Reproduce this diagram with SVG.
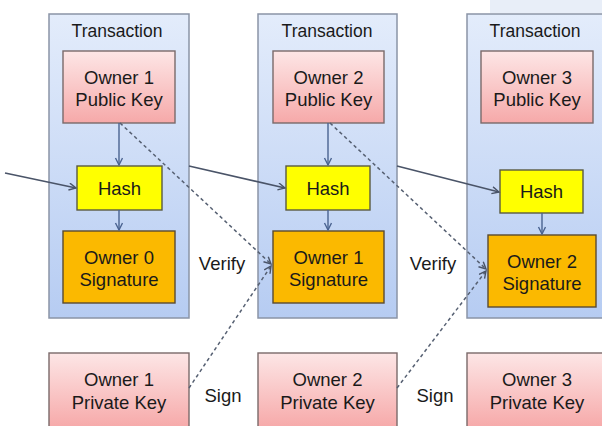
<svg xmlns="http://www.w3.org/2000/svg" width="602" height="426" viewBox="0 0 602 426">
<defs>
<linearGradient id="gTx" x1="0" y1="0" x2="0" y2="1">
<stop offset="0" stop-color="#e3ecfb"/>
<stop offset="1" stop-color="#b6ccf2"/>
</linearGradient>
<linearGradient id="gKey" x1="0" y1="0" x2="0" y2="1">
<stop offset="0" stop-color="#fde6e6"/>
<stop offset="1" stop-color="#f6a9a9"/>
</linearGradient>
<marker id="arr" markerWidth="10" markerHeight="10" refX="8" refY="4" orient="auto" markerUnits="userSpaceOnUse">
<path d="M1,0.5 L8,4 L1,7.5" fill="none" stroke="#4a5468" stroke-width="1.4"/>
</marker>
<marker id="arrB" markerWidth="10" markerHeight="10" refX="8" refY="4" orient="auto" markerUnits="userSpaceOnUse">
<path d="M1,0.5 L8,4 L1,7.5" fill="none" stroke="#4a6390" stroke-width="1.4"/>
</marker>
</defs>
<style>
.tx{fill:url(#gTx);stroke:#8a94a6;stroke-width:1.5}
.key{fill:url(#gKey);stroke:#7a6a6a;stroke-width:1.4}
.hash{fill:#ffff00;stroke:#5a5a40;stroke-width:1.4}
.sig{fill:#fbb900;stroke:#5a4a30;stroke-width:1.4}
text{font-family:"Liberation Sans",Arial,sans-serif;font-size:18.5px;fill:#1a1a1a;text-anchor:middle}
.t{font-size:17.5px}
.solid{fill:none;stroke:#4a5468;stroke-width:1.6;marker-end:url(#arr)}
.vert{fill:none;stroke:#4a6390;stroke-width:1.4;marker-end:url(#arrB)}
.dash{fill:none;stroke:#566072;stroke-width:1.5;stroke-dasharray:3.5 3;marker-end:url(#arr)}
</style>
<rect x="0" y="0" width="602" height="426" fill="#ffffff"/>
<rect x="490" y="0" width="112" height="13" fill="#e8eef8"/>

<g id="tx1"><rect class="tx" x="49" y="14" width="140" height="304"/><text class="t" x="117" y="37">Transaction</text></g>
<g id="tx2"><rect class="tx" x="258" y="14" width="139" height="304"/><text class="t" x="327" y="37">Transaction</text></g>
<g id="tx3"><rect class="tx" x="467" y="14" width="142" height="304"/><text class="t" x="535" y="37">Transaction</text></g>

<g id="pub1"><rect class="key" x="63" y="51" width="112" height="72"/><text x="119" y="83.5">Owner 1</text><text x="119" y="105.5">Public Key</text></g>
<g id="pub2"><rect class="key" x="273" y="51" width="111" height="72"/><text x="328.5" y="83.5">Owner 2</text><text x="328.5" y="105.5">Public Key</text></g>
<g id="pub3"><rect class="key" x="481" y="51" width="112" height="72"/><text x="537" y="83.5">Owner 3</text><text x="537" y="105.5">Public Key</text></g>

<g id="hash1"><rect class="hash" x="77" y="166" width="85" height="44"/><text x="119.5" y="194.5">Hash</text></g>
<g id="hash2"><rect class="hash" x="286" y="166" width="84" height="44"/><text x="328" y="194.5">Hash</text></g>
<g id="hash3"><rect class="hash" x="500" y="170" width="83" height="43"/><text x="541.5" y="198">Hash</text></g>

<g id="sig1"><rect class="sig" x="63" y="231" width="112" height="72"/><text x="119" y="263.5">Owner 0</text><text x="119" y="285.5">Signature</text></g>
<g id="sig2"><rect class="sig" x="273" y="231" width="111" height="72"/><text x="328.5" y="263.5">Owner 1</text><text x="328.5" y="285.5">Signature</text></g>
<g id="sig3"><rect class="sig" x="488" y="235" width="108" height="72"/><text x="542" y="267.5">Owner 2</text><text x="542" y="289.5">Signature</text></g>

<g id="priv1"><rect class="key" x="49" y="353" width="140" height="75"/><text x="119" y="385.5">Owner 1</text><text x="119" y="408.5">Private Key</text></g>
<g id="priv2"><rect class="key" x="258" y="353" width="139" height="75"/><text x="327.5" y="385.5">Owner 2</text><text x="327.5" y="408.5">Private Key</text></g>
<g id="priv3"><rect class="key" x="467" y="353" width="142" height="75"/><text x="537" y="385.5">Owner 3</text><text x="537" y="408.5">Private Key</text></g>

<g id="labels">
<text x="222" y="269.5">Verify</text>
<text x="433" y="269.5">Verify</text>
<text x="223" y="401.5">Sign</text>
<text x="435" y="401.5">Sign</text>
</g>

<g id="connectors">
<path class="solid" d="M5,173 L76,188"/>
<path class="solid" d="M189,166 L285,188"/>
<path class="solid" d="M397,166 L499,192"/>
<path class="vert" d="M119,123 L119,165"/>
<path class="vert" d="M119,210 L119,230"/>
<path class="vert" d="M328,123 L328,165"/>
<path class="vert" d="M328,210 L328,230"/>
<path class="vert" d="M542,213 L542,234"/>
<path class="dash" d="M120,123 L271,264"/>
<path class="dash" d="M189,388 L271,266"/>
<path class="dash" d="M330,123 L486,269"/>
<path class="dash" d="M397,388 L486,271"/>
</g>
</svg>
